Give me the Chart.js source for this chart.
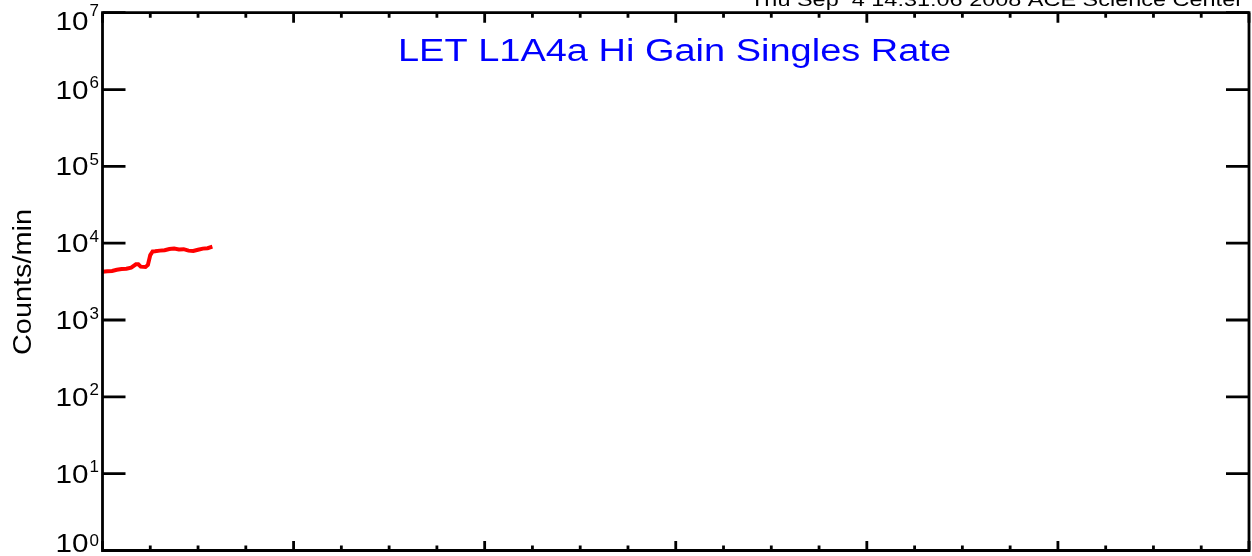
<!DOCTYPE html>
<html>
<head>
<meta charset="utf-8">
<script src="https://cdn.jsdelivr.net/npm/chart.js@4.4.1/dist/chart.umd.min.js"></script>
<style>
html,body{margin:0;padding:0;background:#fff;}
#c{display:block;}
</style>
</head>
<body>
<canvas id="c" width="1252" height="556"></canvas>
<script>
// ---- data ----
const hours = [0, 0.1, 0.2, 0.3, 0.4, 0.5, 0.6, 0.7, 0.75, 0.8, 0.9, 0.95, 1.0, 1.05, 1.1, 1.2, 1.3, 1.4, 1.5, 1.6, 1.7, 1.8, 1.9, 2.0, 2.1, 2.2, 2.3];
const countsPerMin = [4250, 4300, 4350, 4500, 4600, 4650, 4800, 5300, 5300, 4950, 4900, 5200, 7000, 7800, 7850, 8000, 8100, 8400, 8500, 8300, 8350, 8000, 7900, 8200, 8500, 8600, 9000];
const yTickValues = [1, 10, 100, 1000, 10000, 100000, 1000000, 10000000];
const yTickExponents = ['0', '1', '2', '3', '4', '5', '6', '7'];
const xMajorTicks = [0, 4, 8, 12, 16, 20, 24];
const xMinorTicks = [1, 2, 3, 5, 6, 7, 9, 10, 11, 13, 14, 15, 17, 18, 19, 21, 22, 23];
const titleText = 'LET L1A4a Hi Gain Singles Rate';
const yAxisTitle = 'Counts/min';
const stampText = 'Thu Sep  4 14:31:06 2008 ACE Science Center';

const FONT = '"Liberation Sans", "DejaVu Sans", sans-serif';

function stretchedText(ctx, text, x, y, targetW, align) {
  const w = ctx.measureText(text).width;
  const s = targetW / w;
  ctx.save();
  ctx.translate(x, y);
  ctx.scale(s, 1);
  ctx.textAlign = align;
  ctx.fillText(text, 0, 0);
  ctx.restore();
}

const framePlugin = {
  id: 'idlFrame',
  afterDatasetsDraw(chart) {
    const ctx = chart.ctx;
    const xs = chart.scales.x, ys = chart.scales.y;
    const L = xs.left, R = xs.right, T = ys.top, B = ys.bottom;
    ctx.save();
    ctx.strokeStyle = '#000';
    ctx.lineWidth = 2.8;
    ctx.lineCap = 'butt';
    // frame
    ctx.beginPath();
    ctx.moveTo(L, T); ctx.lineTo(R, T); ctx.lineTo(R, B); ctx.lineTo(L, B); ctx.closePath();
    ctx.stroke();
    // y ticks (inward, both sides)
    ctx.beginPath();
    yTickValues.forEach(v => {
      const py = ys.getPixelForValue(v);
      ctx.moveTo(L, py); ctx.lineTo(L + 23, py);
      ctx.moveTo(R, py); ctx.lineTo(R - 23, py);
    });
    // x ticks top and bottom
    xMajorTicks.forEach(v => {
      const px = xs.getPixelForValue(v);
      ctx.moveTo(px, B); ctx.lineTo(px, B - 9.5);
      ctx.moveTo(px, T); ctx.lineTo(px, T + 10);
    });
    xMinorTicks.forEach(v => {
      const px = xs.getPixelForValue(v);
      ctx.moveTo(px, B); ctx.lineTo(px, B - 5);
      ctx.moveTo(px, T); ctx.lineTo(px, T + 5);
    });
    ctx.stroke();

    // y tick labels 10^n
    ctx.fillStyle = '#000';
    ctx.textBaseline = 'alphabetic';
    yTickValues.forEach((v, i) => {
      const py = ys.getPixelForValue(v);
      let b10 = py + 9, bExp = b10 - 10.5;
      if (i === yTickValues.length - 1) { b10 = py + 17.5; bExp = b10 - 14.5; }
      if (i === 0) { b10 = py + 1; bExp = b10 - 6; }
      ctx.font = '26px ' + FONT;
      stretchedText(ctx, '10', 88.5, b10, 33, 'right');
      ctx.font = '17px ' + FONT;
      ctx.textAlign = 'left';
      ctx.fillText(yTickExponents[i], 89.5, bExp);
    });

    // y axis title
    ctx.save();
    ctx.translate(31, 282);
    ctx.rotate(-Math.PI / 2);
    ctx.font = '25px ' + FONT;
    stretchedText(ctx, yAxisTitle, 0, 0, 146, 'center');
    ctx.restore();

    // main title
    ctx.fillStyle = '#0000ff';
    ctx.font = '31px ' + FONT;
    stretchedText(ctx, titleText, 674.5, 61, 553, 'center');

    // timestamp (cut at top)
    ctx.fillStyle = '#000';
    ctx.font = '19px ' + FONT;
    stretchedText(ctx, stampText, 1243, 6, 493, 'right');
    ctx.restore();
  }
};

new Chart(document.getElementById('c'), {
  type: 'line',
  data: {
    datasets: [{
      data: hours.map((h, i) => ({ x: h, y: countsPerMin[i] })),
      borderColor: '#ff0000',
      borderWidth: 4,
      pointRadius: 0,
      tension: 0,
      fill: false
    }]
  },
  options: {
    responsive: false,
    animation: false,
    events: [],
    layout: { padding: { left: 102.5, top: 12.7, right: 3, bottom: 5.5 } },
    plugins: { legend: { display: false }, tooltip: { enabled: false }, title: { display: false } },
    scales: {
      x: { type: 'linear', min: 0, max: 24, display: false },
      y: { type: 'logarithmic', min: 1, max: 10000000, display: false }
    }
  },
  plugins: [framePlugin]
});
</script>
</body>
</html>
